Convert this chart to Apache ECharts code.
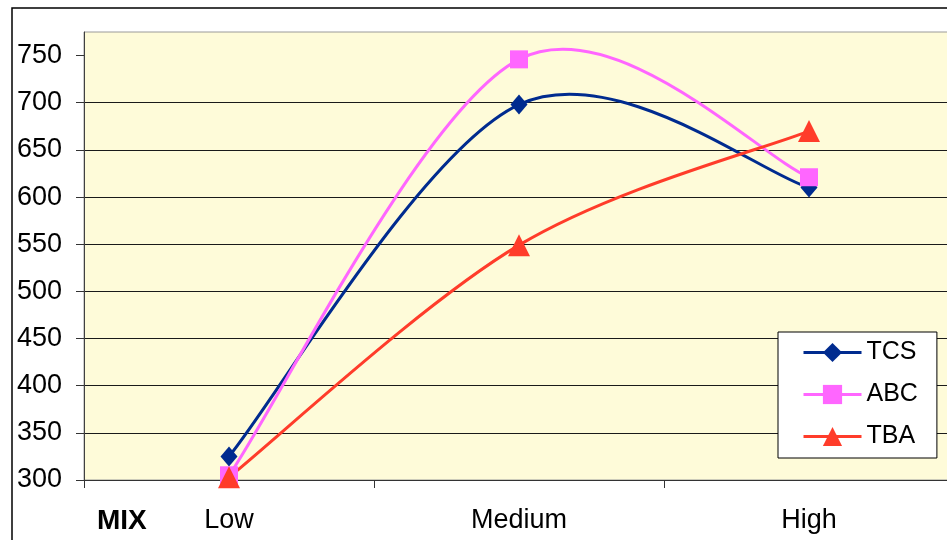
<!DOCTYPE html>
<html>
<head>
<meta charset="utf-8">
<script src="https://cdn.jsdelivr.net/npm/echarts@6/dist/echarts.min.js"></script>
<style>
html,body{margin:0;padding:0;background:#fff;overflow:hidden;}
#chart{width:970px;height:540px;}
</style>
</head>
<body>
<div id="chart"></div>
<script>
const categories = ['Low', 'Medium', 'High'];
const tcs = [325, 698, 610];
const abc = [305, 746, 621];
const tba = [303, 549, 670];
const yTicks = [300, 350, 400, 450, 500, 550, 600, 650, 700, 750];
const axisTitle = 'MIX';

const chart = echarts.init(document.getElementById('chart'), null, {renderer: 'canvas'});
const font = 'Liberation Sans, Arial, sans-serif';

const seriesDefs = [
  {name: 'TCS', data: tcs, color: '#002B8F', symbol: 'diamond', size: [17, 20]},
  {name: 'ABC', data: abc, color: '#FF66FF', symbol: 'rect', size: 18},
  {name: 'TBA', data: tba, color: '#FF3C2A', symbol: 'triangle', size: 22}
];

// Excel-like smoothed curve (Catmull-Rom style), computed through the chart's own coordinate system
function curveSeries(def) {
  const vals = def.data;
  return {
    name: def.name + ' curve',
    type: 'custom',
    data: vals.map((v, i) => [i, v]),
    encode: {x: 0, y: 1},
    z: 2,
    silent: true,
    renderItem: function (params, api) {
      const i = params.dataIndex;
      const n = vals.length;
      if (i >= n - 1) return null;
      const pt = j => {
        const k = Math.max(0, Math.min(n - 1, j));
        return api.coord([k, vals[k]]);
      };
      const p0 = pt(i - 1), p1 = pt(i), p2 = pt(i + 1), p3 = pt(i + 2);
      const cp1 = [p1[0] + (p2[0] - p0[0]) / 6, p1[1] + (p2[1] - p0[1]) / 6];
      const cp2 = [p2[0] - (p3[0] - p1[0]) / 6, p2[1] - (p3[1] - p1[1]) / 6];
      return {
        type: 'bezierCurve',
        shape: {x1: p1[0], y1: p1[1], x2: p2[0], y2: p2[1],
                cpx1: cp1[0], cpy1: cp1[1], cpx2: cp2[0], cpy2: cp2[1]},
        style: {stroke: def.color, lineWidth: 3, fill: null}
      };
    }
  };
}

function markerSeries(def) {
  return {
    name: def.name,
    type: 'line',
    data: def.data,
    symbol: def.symbol,
    symbolSize: def.size,
    showAllSymbol: true,
    lineStyle: {color: def.color, width: 0, opacity: 0},
    itemStyle: {color: def.color},
    emphasis: {disabled: true},
    z: 3
  };
}

const series = [];
seriesDefs.forEach(d => series.push(curveSeries(d)));
seriesDefs.forEach(d => series.push(markerSeries(d)));

chart.setOption({
  animation: false,
  backgroundColor: '#ffffff',
  grid: {
    left: 84, top: 32, width: 870, height: 448,
    show: true,
    backgroundColor: '#FEFBD9',
    borderColor: '#9a9a9a',
    borderWidth: 1
  },
  xAxis: {
    type: 'category',
    data: categories,
    boundaryGap: true,
    axisLine: {lineStyle: {color: '#333', width: 1}},
    axisTick: {show: true, length: 8, alignWithLabel: false, lineStyle: {color: '#333'}},
    axisLabel: {color: '#000', fontFamily: font, fontSize: 27, margin: 27}
  },
  yAxis: {
    type: 'value',
    min: 300,
    max: 775,
    interval: 50,
    axisLine: {show: true, lineStyle: {color: '#404040', width: 1}},
    axisTick: {show: true, length: 8, inside: false, customValues: yTicks, lineStyle: {color: '#333'}},
    axisLabel: {color: '#000', fontFamily: font, fontSize: 27, margin: 22, customValues: yTicks},
    splitLine: {show: true, showMaxLine: false, lineStyle: {color: '#1a1a1a', width: 1}}
  },
  legend: {
    orient: 'vertical',
    left: 778,
    top: 332,
    backgroundColor: '#ffffff',
    borderColor: '#000',
    borderWidth: 1,
    borderRadius: 0,
    padding: [8, 19, 9, 24],
    itemGap: 17,
    itemWidth: 58,
    itemHeight: 24,
    textStyle: {color: '#000', fontFamily: font, fontSize: 25},
    data: seriesDefs.map(d => ({
      name: d.name,
      lineStyle: {color: d.color, width: 3, opacity: 1}
    }))
  },
  graphic: [
    {
      type: 'rect',
      shape: {x: 12, y: 8, width: 1000, height: 1000},
      style: {fill: null, stroke: '#000', lineWidth: 1.5},
      silent: true,
      z: 100
    },
    {
      type: 'text',
      left: 97,
      top: 507,
      style: {text: axisTitle, fill: '#000', font: 'bold 28px Liberation Sans, Arial, sans-serif'},
      silent: true
    }
  ],
  series: series
});
</script>
</body>
</html>
